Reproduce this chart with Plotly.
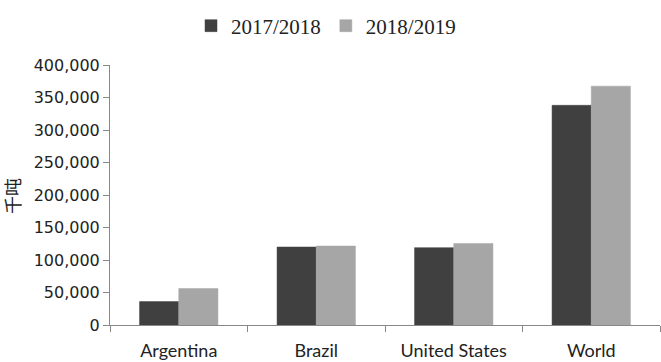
import plotly.graph_objects as go

categories = ["Argentina", "Brazil", "United States", "World"]
series_names = ["2017/2018", "2018/2019"]
values_2017 = [36000, 120000, 119000, 338000]
values_2018 = [56000, 121500, 125500, 367500]
y_ticks = [0, 50000, 100000, 150000, 200000, 250000, 300000, 350000, 400000]
y_tick_labels = ["0", "50,000", "100,000", "150,000", "200,000", "250,000", "300,000", "350,000", "400,000"]
y_title = "千吨"
colors = ["#404040", "#a6a6a6"]

W, H = 661, 362
L, R, T, B = 110, 1, 65, 37
PW, PH = W - L - R, H - T - B

fig = go.Figure()
for name, vals, c in zip(series_names, [values_2017, values_2018], colors):
    fig.add_trace(go.Bar(x=categories, y=vals, name=name, marker=dict(color=c, line=dict(color=c, width=0.5))))

fig.update_layout(
    width=W, height=H,
    paper_bgcolor="white", plot_bgcolor="white",
    margin=dict(l=L, r=R, t=T, b=B, autoexpand=False),
    barmode="group", bargap=0.43, bargroupgap=0,
    showlegend=True,
    legend=dict(orientation="h", x=326 / W, xanchor="center", xref="container",
                y=1 - 26 / H, yanchor="middle", yref="container",
                font=dict(family="Liberation Serif", size=21, color="#222"),
                itemwidth=30, tracegroupgap=0),
    xaxis=dict(type="category", showline=True, linecolor="#888", linewidth=1, automargin=False,
               ticks="outside", tickson="boundaries", ticklen=6, tickcolor="#888",
               ticklabelstandoff=9,
               tickfont=dict(family="Lato", size=18, color="#222"), showgrid=False),
    yaxis=dict(range=[0, 400000], tickvals=y_ticks, ticktext=y_tick_labels, automargin=False,
               showline=True, linecolor="#888", linewidth=1, ticks="outside", ticklen=6,
               tickcolor="#888", showgrid=False, zeroline=False,
               tickfont=dict(family="DejaVu Sans", size=16, color="#222")),
    annotations=[dict(text=y_title, textangle=-90, showarrow=False,
                      xref="paper", yref="paper", x=(12 - L) / PW, y=(H - B - 196) / PH,
                      xanchor="center", yanchor="middle",
                      font=dict(family="Noto Sans CJK SC", size=18, color="#222"))],
)
fig.write_html("out.html", config={"displayModeBar": False},
               post_script="document.body.style.margin='0';")
